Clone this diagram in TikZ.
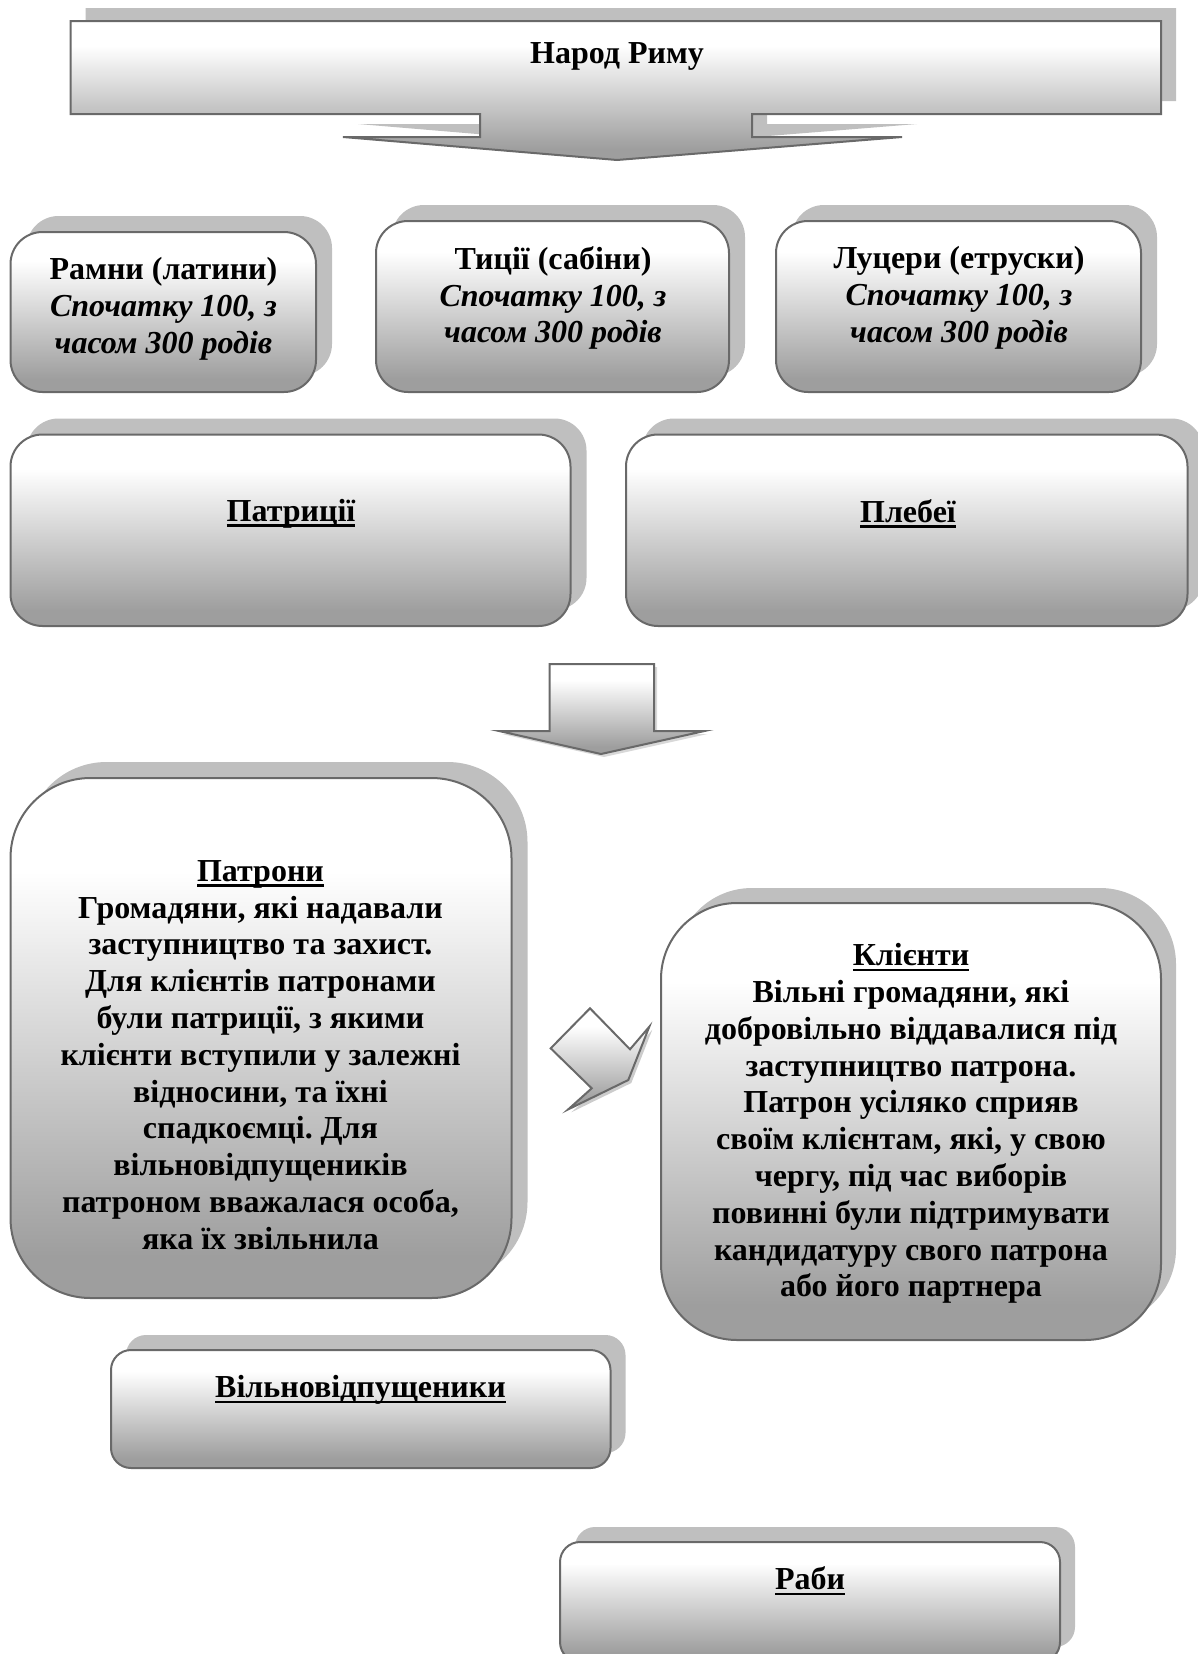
\documentclass[tikz,border=0pt]{standalone}
\usepackage{fontspec}
\setmainfont{Liberation Serif}
\frenchspacing
\definecolor{shadc}{RGB}{191,191,191}
\definecolor{gradc}{RGB}{158,158,158}
\definecolor{bordc}{RGB}{105,105,105}
\pgfdeclareverticalshading{boxshade}{100bp}{color(0bp)=(gradc); color(29bp)=(gradc); color(66bp)=(white); color(100bp)=(white)}
\newcommand\myul[1]{\setbox0\hbox{#1}\leavevmode\rlap{\rule[-2.8pt]{\wd0}{1.3pt}}\box0}
\newcommand\rbox[6]{% x1 y1 x2 y2 radius(pt) shadowoffset
  \fill[shadc, rounded corners=#5] ({#1+#6},{#2-#6}) rectangle ({#3+#6},{#4-#6});
  \draw[box, rounded corners=#5] (#1,#2) rectangle (#3,#4);}
\begin{document}
\begin{tikzpicture}[x=0.5pt,y=-0.5pt,
  box/.style={draw=bordc, line width=1pt, shade, shading=boxshade},
  txt/.style={font=\bfseries\fontsize{16}{18.4}\selectfont, align=center, inner sep=0pt}]
\useasboundingbox (0,0) rectangle (1198,1654);
\clip (0,0) rectangle (1198,1654);

% banner with arrow
\fill[shadc, shift={(15,-13)}] (70.7,21) -- (1161,21) -- (1161,114) -- (752,114) -- (752,137) -- (902,137) -- (617,160) -- (343,137) -- (480,137) -- (480,114) -- (70.7,114) -- cycle;
\draw[box] (70.7,21) -- (1161,21) -- (1161,114) -- (752,114) -- (752,137) -- (902,137) -- (617,160) -- (343,137) -- (480,137) -- (480,114) -- (70.7,114) -- cycle;
\node[txt] (narod) at (617,56) {Народ Риму};

% three tribes
\rbox{10.5}{232}{316}{392}{16pt}{16}
\rbox{376}{221}{729}{392}{16pt}{16}
\rbox{776}{221}{1141}{392}{16pt}{16}
\node[txt] (ramni) at (163.5,309) {Рамни (латини)\\\textit{Спочатку 100, з}\\\textit{часом 300 родів}};
\node[txt] (tycii) at (553,298) {Тиції (сабіни)\\\textit{Спочатку 100, з}\\\textit{часом 300 родів}};
\node[txt] (lutsery) at (959,298) {Луцери (етруски)\\\textit{Спочатку 100, з}\\\textit{часом 300 родів}};

% patricians / plebeians
\rbox{10.5}{434.5}{570.5}{626}{16pt}{16}
\rbox{626}{434.5}{1187.5}{626}{16pt}{16}
\node[txt] (patr) at (291,513.5) {\myul{Патриції}};
\node[txt] (pleb) at (908,513.5) {\myul{Плебеї}};

% middle down arrow
\fill[shadc!60, shift={(3,3)}] (549.5,664) -- (654,664) -- (654,731) -- (704.5,731) -- (601,754) -- (499,731) -- (549.5,731) -- cycle;
\draw[box] (549.5,664) -- (654,664) -- (654,731) -- (704.5,731) -- (601,754) -- (499,731) -- (549.5,731) -- cycle;

% patrons
\rbox{10.5}{778}{511.5}{1298}{40pt}{16}
\node[txt] (patroni) at (260.5,1055) {\myul{Патрони}\\Громадяни, які надавали\\заступництво та захист.\\Для клієнтів патронами\\були патриції, з якими\\клієнти вступили у залежні\\відносини, та їхні\\спадкоємці. Для\\вільновідпущеників\\патроном вважалася особа,\\яка їх звільнила};

% chevron
\fill[shadc!80, shift={(3,3)}] (550.7,1048.3) -- (590,1008.3) -- (630,1049.3) -- (649.3,1026.7) -- (628.3,1080) -- (568.3,1109.3) -- (591.7,1088.3) -- cycle;
\draw[box] (550.7,1048.3) -- (590,1008.3) -- (630,1049.3) -- (649.3,1026.7) -- (628.3,1080) -- (568.3,1109.3) -- (591.7,1088.3) -- cycle;

% clients
\rbox{661}{903}{1161}{1340}{38pt}{15}
\node[txt] (klienty) at (911,1123.5) {\myul{Клієнти}\\Вільні громадяни, які\\добровільно віддавалися під\\заступництво патрона.\\Патрон усіляко сприяв\\своїм клієнтам, які, у свою\\чергу, під час виборів\\повинні були підтримувати\\кандидатуру свого патрона\\або його партнера};

% freedmen
\rbox{111}{1350}{610.5}{1468}{10pt}{15}
\node[txt] (vilno) at (360.5,1390) {\myul{Вільновідпущеники}};

% slaves
\rbox{560}{1542}{1060}{1662}{10pt}{15}
\node[txt] (raby) at (810,1581) {\myul{Раби}};
\end{tikzpicture}
\end{document}
